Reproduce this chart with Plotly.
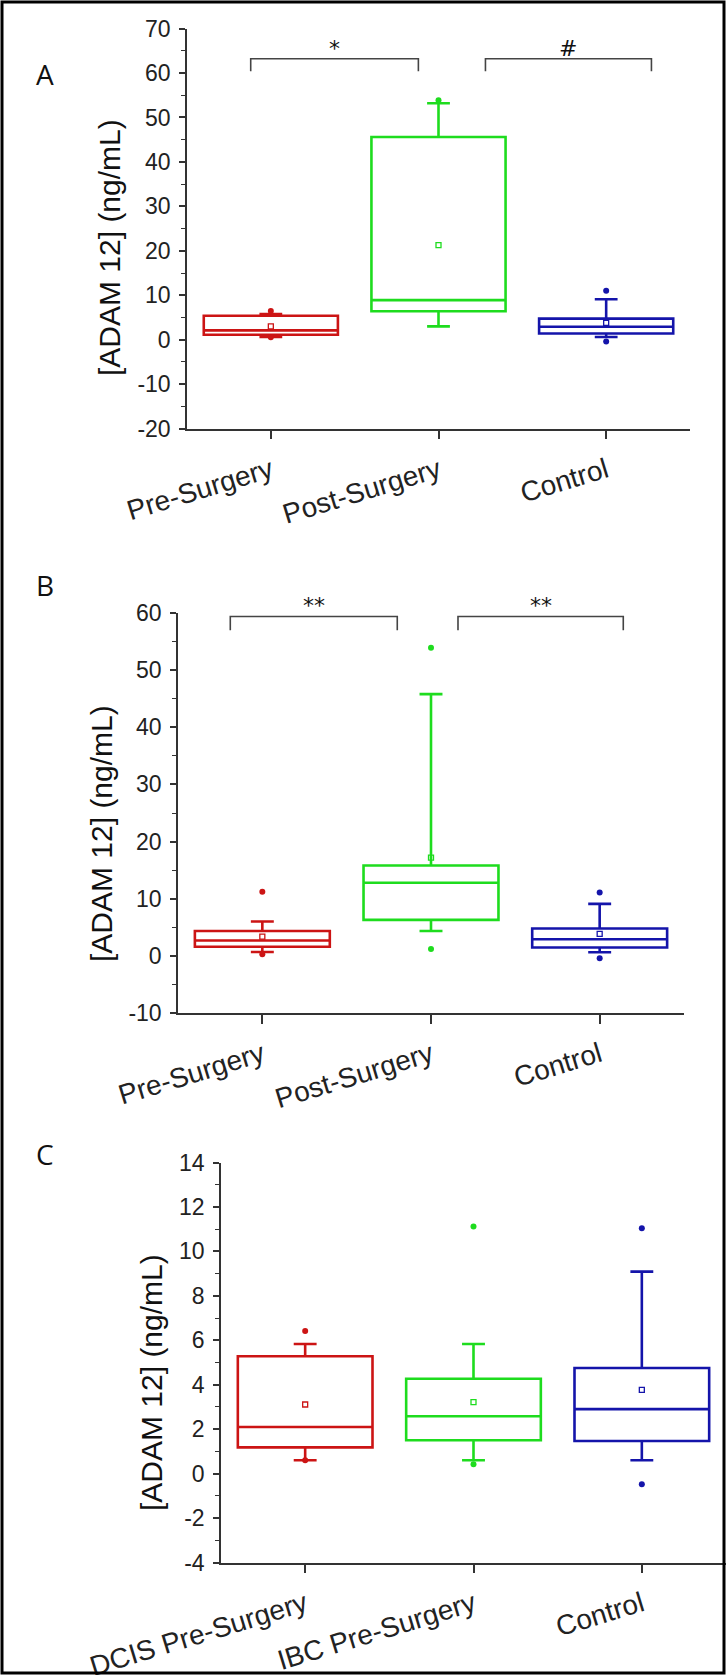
import plotly.graph_objects as go

W, H = 726, 1675

colors = ["#CC1414", "#1EDC1E", "#1414AA"]

# ---------------- Panel A ----------------
a_categories = ["Pre-Surgery", "Post-Surgery", "Control"]
a_q1 = [1.1, 6.4, 1.4]
a_median = [2.1, 8.9, 2.9]
a_q3 = [5.4, 45.6, 4.75]
a_low = [0.6, 3.0, 0.6]
a_high = [5.8, 53.2, 9.1]
a_mean = [3.0, 21.3, 3.77]
a_outliers = [[6.45, 0.55], [53.9], [11.0, -0.4]]
a_yticks = [-20, -10, 0, 10, 20, 30, 40, 50, 60, 70]
a_brackets = [(-0.12, 0.88, "*"), (1.28, 2.27, "#")]

# ---------------- Panel B ----------------
b_categories = ["Pre-Surgery", "Post-Surgery", "Control"]
b_q1 = [1.6, 6.3, 1.45]
b_median = [2.7, 12.8, 2.9]
b_q3 = [4.35, 15.8, 4.8]
b_low = [0.67, 4.35, 0.62]
b_high = [6.0, 45.8, 9.1]
b_mean = [3.35, 17.2, 3.85]
b_outliers = [[11.2, 0.3], [53.9, 1.2], [11.1, -0.43]]
b_yticks = [-10, 0, 10, 20, 30, 40, 50, 60]
b_brackets = [(-0.19, 0.80, "**"), (1.16, 2.14, "**")]

# ---------------- Panel C ----------------
c_categories = ["DCIS Pre-Surgery", "IBC Pre-Surgery", "Control"]
c_q1 = [1.18, 1.5, 1.47]
c_median = [2.1, 2.58, 2.9]
c_q3 = [5.28, 4.27, 4.75]
c_low = [0.6, 0.6, 0.6]
c_high = [5.83, 5.83, 9.09]
c_mean = [3.11, 3.22, 3.77]
c_outliers = [[6.42, 0.6], [11.12, 0.42], [11.04, -0.48]]
c_yticks = [-4, -2, 0, 2, 4, 6, 8, 10, 12, 14]

panels = [
    dict(letter="A", cats=a_categories, q1=a_q1, med=a_median, q3=a_q3, lo=a_low, hi=a_high,
         mean=a_mean, out=a_outliers, yticks=a_yticks, minor=5, brackets=a_brackets,
         br_y=63.2, br_leg=60.4, txt_px=48,
         px_x=(187, 690), px_y=(28.6, 428.6), letter_xy=(45, 74), title_xy=(109, 248)),
    dict(letter="B", cats=b_categories, q1=b_q1, med=b_median, q3=b_q3, lo=b_low, hi=b_high,
         mean=b_mean, out=b_outliers, yticks=b_yticks, minor=5, brackets=b_brackets,
         br_y=59.4, br_leg=57.0, txt_px=605,
         px_x=(178, 684), px_y=(613, 1013), letter_xy=(45, 585), title_xy=(102, 834)),
    dict(letter="C", cats=c_categories, q1=c_q1, med=c_median, q3=c_q3, lo=c_low, hi=c_high,
         mean=c_mean, out=c_outliers, yticks=c_yticks, minor=1, brackets=[],
         br_y=0, br_leg=0, txt_px=0,
         px_x=(221, 726), px_y=(1162.5, 1562.5), letter_xy=(45, 1154), title_xy=(151, 1383)),
]

fig = go.Figure()
shapes = []
annotations = []
layout = dict(width=W, height=H, margin=dict(l=0, r=0, t=0, b=0, autoexpand=False),
              paper_bgcolor="white", plot_bgcolor="white", showlegend=False)

AXC = "#333333"
TICKFONT = dict(family="Liberation Sans, Arial, sans-serif", size=23, color="#222222")
XFONT = dict(family="Liberation Sans, Arial, sans-serif", size=28, color="#222222")

for i, p in enumerate(panels):
    n = "" if i == 0 else str(i + 1)
    xa, ya = "x" + n, "y" + n
    positions = list(range(len(p["cats"])))
    for j, pos in enumerate(positions):
        c = colors[j]
        fig.add_trace(go.Box(
            x=[pos], q1=[p["q1"][j]], median=[p["med"][j]], q3=[p["q3"][j]],
            lowerfence=[p["lo"][j]], upperfence=[p["hi"][j]],
            width=0.8, whiskerwidth=0.17, boxpoints=False,
            line=dict(color=c, width=2.6), fillcolor="rgba(0,0,0,0)",
            xaxis=xa, yaxis=ya, hoverinfo="skip"))
        fig.add_trace(go.Scatter(
            x=[pos], y=[p["mean"][j]], mode="markers",
            marker=dict(symbol="square-open", size=5, color=c, line=dict(width=1.3, color=c)),
            xaxis=xa, yaxis=ya, hoverinfo="skip", cliponaxis=False))
        fig.add_trace(go.Scatter(
            x=[pos] * len(p["out"][j]), y=p["out"][j], mode="markers",
            marker=dict(symbol="circle", size=6, color=c),
            xaxis=xa, yaxis=ya, hoverinfo="skip", cliponaxis=False))

    x0, x1 = p["px_x"]
    y0, y1 = p["px_y"]
    ymin, ymax = p["yticks"][0], p["yticks"][-1]
    layout["xaxis" + n] = dict(
        domain=[x0 / W, x1 / W], range=[-0.5, 2.5], anchor=ya, automargin=False,
        tickmode="array", tickvals=positions, ticktext=p["cats"], tickangle=-17,
        ticks="outside", ticklen=9, tickwidth=1.5, tickcolor=AXC, ticklabelstandoff=4,
        showline=True, linecolor=AXC, linewidth=1.5, showgrid=False, zeroline=False,
        tickfont=XFONT, fixedrange=True)
    layout["yaxis" + n] = dict(
        domain=[1 - y1 / H, 1 - y0 / H], range=[ymin, ymax], anchor=xa, automargin=False,
        tickmode="array", tickvals=p["yticks"], ticktext=[str(v) for v in p["yticks"]],
        ticks="outside", ticklen=6, tickwidth=1.5,
        tickcolor=AXC, showline=True, linecolor=AXC, linewidth=1.5, showgrid=False,
        zeroline=False, tickfont=TICKFONT, ticklabelstandoff=4,
        minor=dict(dtick=p["minor"], tick0=0, ticks="outside", ticklen=4, tickwidth=1.2,
                   tickcolor=AXC, showgrid=False),
        fixedrange=True)

    for (bx0, bx1, txt) in p["brackets"]:
        shapes.append(dict(type="path", xref=xa, yref=ya,
                           path=f"M {bx0},{p['br_leg']} L {bx0},{p['br_y']} L {bx1},{p['br_y']} L {bx1},{p['br_leg']}",
                           line=dict(color="#444444", width=1.6)))
        annotations.append(dict(xref=xa, yref="paper", x=(bx0 + bx1) / 2, y=1 - p["txt_px"] / H,
                                text=txt, showarrow=False,
                                font=dict(family="DejaVu Sans, sans-serif", size=22, color="#111111"),
                                xanchor="center", yanchor="middle"))

    lx, ly = p["letter_xy"]
    annotations.append(dict(xref="paper", yref="paper", x=lx / W, y=1 - ly / H, text=p["letter"],
                            showarrow=False, xanchor="center", yanchor="middle",
                            font=dict(family="Open Sans, sans-serif", size=28, color="#111111")))
    tx, ty = p["title_xy"]
    annotations.append(dict(xref="paper", yref="paper", x=tx / W, y=1 - ty / H,
                            text="[ADAM 12] (ng/mL)", textangle=-90, showarrow=False,
                            xanchor="center", yanchor="middle",
                            font=dict(family="Liberation Sans, Arial, sans-serif", size=30, color="#111111")))

shapes.append(dict(type="rect", xref="paper", yref="paper",
                   x0=2 / W, x1=1 - 2 / W, y0=2 / H, y1=1 - 2 / H,
                   line=dict(color="black", width=3), layer="above"))

layout["shapes"] = shapes
layout["annotations"] = annotations
fig.update_layout(**layout)
fig.write_html("out.html")
